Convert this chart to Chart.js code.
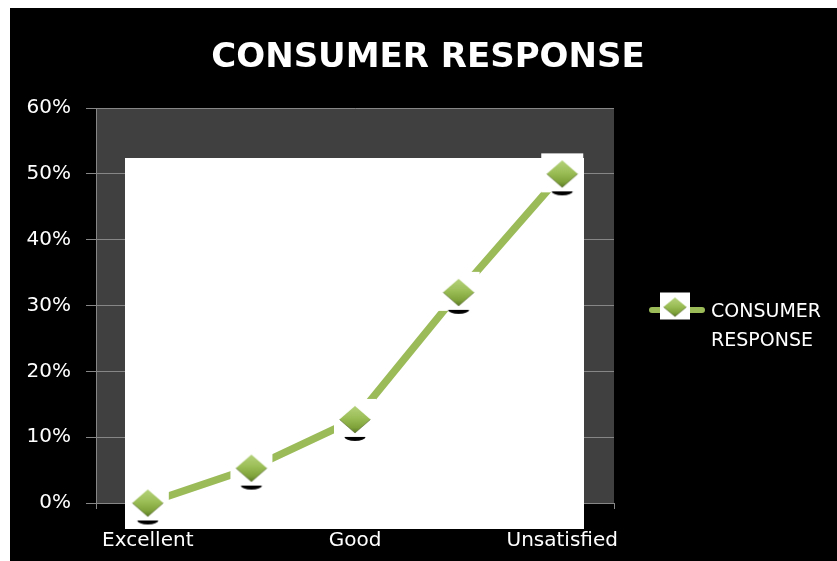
<!DOCTYPE html>
<html>
<head>
<meta charset="utf-8">
<title>Consumer Response</title>
<script src="https://cdn.jsdelivr.net/npm/chart.js@4.4.1/dist/chart.umd.min.js"></script>
<style>
  html, body { margin: 0; padding: 0; background: #fff; }
  #wrap { position: absolute; left: 10px; top: 8px; width: 827px; height: 553px; background: #000; }
  canvas { display: block; }
</style>
</head>
<body>
<div id="wrap"><canvas id="chart-response" width="827" height="553"></canvas></div>
<script>
// -- DATA ----------------------------------------------
const TITLE = "CONSUMER RESPONSE";
const SERIES_LABEL = "CONSUMER RESPONSE";
const categories = ["Excellent", "", "Good", "", "Unsatisfied"];
const responseShare = [0, 5.3, 12.7, 32, 50];
const yTickMin = 0;
const yTickMax = 60;
const yTickStep = 10;

const FONT = "'DejaVu Sans', sans-serif";
const GREEN = "#9bbb59";
const GRID = "#868686";

// -- MARKERS -------------------------------------------
// diamond marker on a white square, with the small drop shadow underneath
function makeMarker(boxW, boxH, dW, dH, withShadow) {
  const c = document.createElement("canvas");
  c.width = boxW + 2;
  c.height = boxH + 14;
  const ctx = c.getContext("2d");
  const cx = c.width / 2;
  const cy = c.height / 2;

  ctx.fillStyle = "#ffffff";
  ctx.fillRect(cx - boxW / 2, cy - boxH / 2 - 1, boxW, boxH);

  if (withShadow) {
    ctx.fillStyle = "#000";
    ctx.beginPath();
    ctx.ellipse(cx, cy + dH / 2 + 4, dW * 0.34, 4, 0, 0, Math.PI);
    ctx.fill();
  }

  const g = ctx.createLinearGradient(0, cy - dH / 2, 0, cy + dH / 2);
  g.addColorStop(0, "#b4d27a");
  g.addColorStop(0.45, "#9cbe57");
  g.addColorStop(0.8, "#7fa23b");
  g.addColorStop(1, "#5a7822");
  ctx.fillStyle = g;
  ctx.beginPath();
  ctx.moveTo(cx, cy - dH / 2);
  ctx.lineTo(cx + dW / 2, cy);
  ctx.lineTo(cx, cy + dH / 2);
  ctx.lineTo(cx - dW / 2, cy);
  ctx.closePath();
  ctx.fill();

  // darker lower edges
  ctx.strokeStyle = "rgba(60,80,20,0.5)";
  ctx.lineWidth = 1;
  ctx.beginPath();
  ctx.moveTo(cx - dW / 2, cy);
  ctx.lineTo(cx, cy + dH / 2);
  ctx.lineTo(cx + dW / 2, cy);
  ctx.stroke();
  return c;
}

const pointMarker = makeMarker(42, 39, 31, 27, true);
const legendMarker = makeMarker(30, 27, 23, 19, false);

// -- PLUGINS -------------------------------------------
const frame = {
  id: "frame",
  beforeDraw(chart) {
    const { ctx, chartArea: a } = chart;
    ctx.save();
    ctx.fillStyle = "#404040";
    ctx.fillRect(a.left, a.top, a.right - a.left, a.bottom - a.top);
    ctx.restore();
  },
  beforeDatasetsDraw(chart) {
    // white panel laid over the plot area
    const { ctx, chartArea: a } = chart;
    ctx.save();
    ctx.fillStyle = "#ffffff";
    ctx.fillRect(a.left + 29, a.top + 50, (a.right - 30) - (a.left + 29), (a.bottom + 26) - (a.top + 50));
    ctx.restore();
  },
  afterDraw(chart) {
    const { ctx } = chart;
    ctx.save();
    ctx.fillStyle = "#ffffff";
    ctx.textAlign = "center";
    ctx.textBaseline = "alphabetic";
    ctx.font = "bold 34px " + FONT;
    ctx.fillText(TITLE, 418, 59);

    // legend: line sample, marker, wrapped label
    const lx = 639, ly = 302;
    ctx.strokeStyle = GREEN;
    ctx.lineWidth = 6;
    ctx.lineCap = "round";
    ctx.beginPath();
    ctx.moveTo(lx + 3, ly);
    ctx.lineTo(lx + 53, ly);
    ctx.stroke();
    ctx.drawImage(legendMarker, 665 - legendMarker.width / 2, 299 - legendMarker.height / 2);

    ctx.textAlign = "left";
    ctx.font = "19px " + FONT;
    const words = chart.data.datasets[0].label.split(" ");
    words.forEach((w, i) => ctx.fillText(w, 701, 309 + i * 29));
    ctx.restore();
  }
};

// -- RENDER --------------------------------------------
new Chart(document.getElementById("chart-response"), {
  type: "line",
  data: {
    labels: categories,
    datasets: [
      {
        label: SERIES_LABEL,
        data: responseShare,
        borderColor: GREEN,
        borderWidth: 7.5,
        tension: 0,
        pointStyle: pointMarker,
        pointRadius: 6,
        pointHoverRadius: 6,
        clip: false
      }
    ]
  },
  options: {
    responsive: false,
    animation: false,
    events: [],
    layout: { padding: { top: 100, right: 223, left: 0, bottom: 0 } },
    scales: {
      x: {
        offset: true,
        afterFit(scale) { scale.height = 58; },
        grid: { drawOnChartArea: false, drawTicks: true, tickLength: 6, offset: true, color: GRID },
        border: { color: GRID, width: 1 },
        ticks: { color: "#ffffff", font: { family: FONT, size: 20 }, padding: 20, autoSkip: false, maxRotation: 0 }
      },
      y: {
        min: yTickMin,
        max: yTickMax,
        afterFit(scale) { scale.width = 86; },
        grid: { color: GRID, tickLength: 10, drawTicks: true },
        border: { color: GRID, width: 1 },
        ticks: {
          stepSize: yTickStep,
          color: "#ffffff",
          font: { family: FONT, size: 20 },
          padding: 15,
          callback: (v) => v + "%"
        }
      }
    },
    plugins: {
      legend: { display: false },
      title: { display: false },
      tooltip: { enabled: false }
    }
  },
  plugins: [frame]
});
</script>
</body>
</html>
